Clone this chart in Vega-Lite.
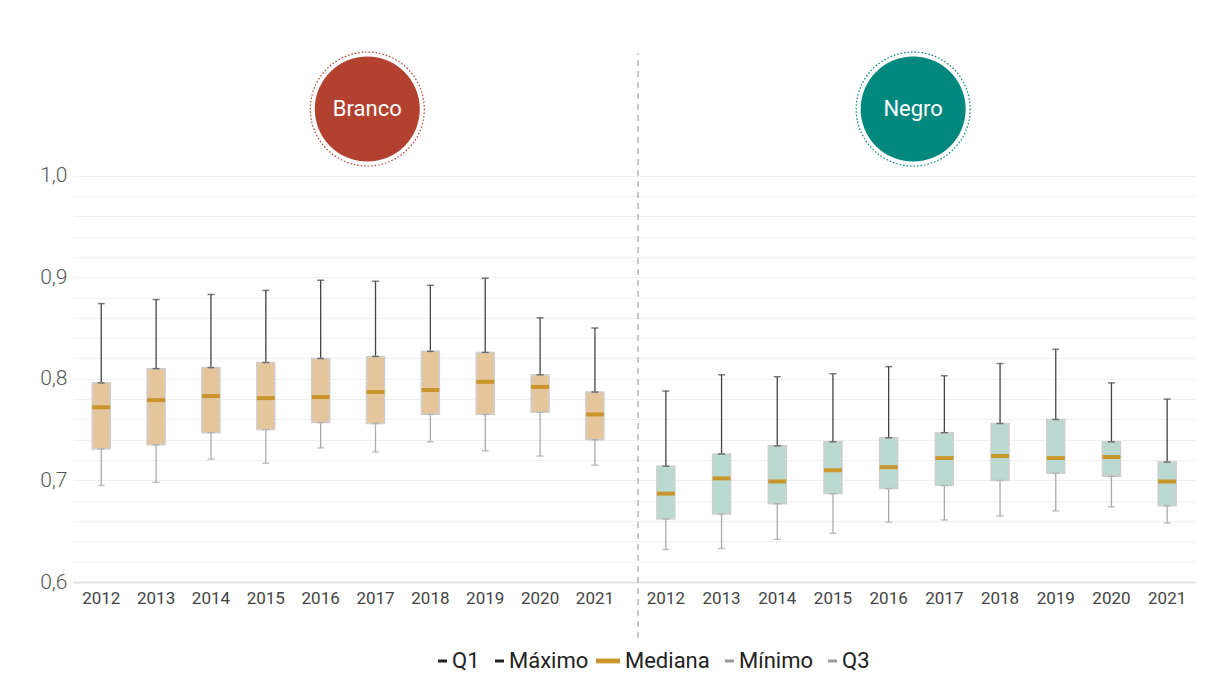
{
  "$schema": "https://vega.github.io/schema/vega-lite/v6.json",
  "background": "white",
  "padding": {"left": 39, "top": 49, "right": 13, "bottom": 20},
  "bounds": "flush",
  "spacing": 0,
  "config": {
    "font": "Roboto",
    "view": {"stroke": null},
    "axisX": {"labelFont": "Roboto", "labelFontSize": 17, "labelColor": "#444444", "ticks": false, "domain": true, "domainColor": "#e3e3e3", "domainWidth": 2, "labelPadding": 8, "labelAngle": 0, "grid": false, "title": null},
    "axisY": {"ticks": false, "domain": false, "grid": true, "gridColor": "#efefef", "gridWidth": 1, "title": null, "labelOverlap": false, "tickCount": 30}
  },
  "data": {
    "values": [
      {"group": "Branco", "year": 2012, "min": 0.695, "q1": 0.731, "median": 0.772, "q3": 0.796, "max": 0.874},
      {"group": "Branco", "year": 2013, "min": 0.698, "q1": 0.735, "median": 0.779, "q3": 0.810, "max": 0.878},
      {"group": "Branco", "year": 2014, "min": 0.721, "q1": 0.747, "median": 0.783, "q3": 0.811, "max": 0.883},
      {"group": "Branco", "year": 2015, "min": 0.717, "q1": 0.750, "median": 0.781, "q3": 0.816, "max": 0.887},
      {"group": "Branco", "year": 2016, "min": 0.732, "q1": 0.757, "median": 0.782, "q3": 0.820, "max": 0.897},
      {"group": "Branco", "year": 2017, "min": 0.728, "q1": 0.756, "median": 0.787, "q3": 0.822, "max": 0.896},
      {"group": "Branco", "year": 2018, "min": 0.738, "q1": 0.765, "median": 0.789, "q3": 0.827, "max": 0.892},
      {"group": "Branco", "year": 2019, "min": 0.729, "q1": 0.765, "median": 0.797, "q3": 0.826, "max": 0.899},
      {"group": "Branco", "year": 2020, "min": 0.724, "q1": 0.767, "median": 0.792, "q3": 0.804, "max": 0.860},
      {"group": "Branco", "year": 2021, "min": 0.715, "q1": 0.740, "median": 0.765, "q3": 0.787, "max": 0.850},
      {"group": "Negro", "year": 2012, "min": 0.632, "q1": 0.662, "median": 0.687, "q3": 0.714, "max": 0.788},
      {"group": "Negro", "year": 2013, "min": 0.633, "q1": 0.667, "median": 0.702, "q3": 0.726, "max": 0.804},
      {"group": "Negro", "year": 2014, "min": 0.642, "q1": 0.677, "median": 0.699, "q3": 0.734, "max": 0.802},
      {"group": "Negro", "year": 2015, "min": 0.648, "q1": 0.687, "median": 0.710, "q3": 0.738, "max": 0.805},
      {"group": "Negro", "year": 2016, "min": 0.659, "q1": 0.692, "median": 0.713, "q3": 0.742, "max": 0.812},
      {"group": "Negro", "year": 2017, "min": 0.661, "q1": 0.695, "median": 0.722, "q3": 0.747, "max": 0.803},
      {"group": "Negro", "year": 2018, "min": 0.665, "q1": 0.700, "median": 0.724, "q3": 0.756, "max": 0.815},
      {"group": "Negro", "year": 2019, "min": 0.670, "q1": 0.707, "median": 0.722, "q3": 0.760, "max": 0.829},
      {"group": "Negro", "year": 2020, "min": 0.674, "q1": 0.704, "median": 0.723, "q3": 0.738, "max": 0.796},
      {"group": "Negro", "year": 2021, "min": 0.658, "q1": 0.675, "median": 0.699, "q3": 0.718, "max": 0.780}
    ]
  },
  "resolve": {"scale": {"x": "independent", "y": "shared", "color": "shared", "shape": "shared"}},
  "hconcat": [
    {
      "width": 565,
      "height": 508,
      "transform": [{"filter": "datum.group == 'Branco'"}],
      "encoding": {
        "x": {"field": "year", "type": "ordinal", "scale": {"paddingInner": 0, "paddingOuter": 0.15, "align": 0.05}}
      },
      "layer": [
        {"mark": {"type": "rule", "color": "#444444", "strokeWidth": 1.3},
         "encoding": {"y": {"field": "q3", "type": "quantitative", "scale": {"domain": [0.6, 1.1], "nice": false, "zero": false},
           "axis": {"values": [0.6,0.62,0.64,0.66,0.68,0.7,0.72,0.74,0.76,0.78,0.8,0.82,0.84,0.86,0.88,0.9,0.92,0.94,0.96,0.98,1.0],
             "tickCount": 30,
             "labelExpr": "format(datum.value, '.2f')[3] == '0' ? replace(format(datum.value, '.1f'), '.', ',') : ''",
             "labelFont": "Roboto", "labelFontSize": 21, "labelColor": "#555555", "labelPadding": 6, "labelFontWeight": 300}},
           "y2": {"field": "max"}}},
        {"mark": {"type": "rule", "color": "#aaaaaa", "strokeWidth": 1.3},
         "encoding": {"y": {"field": "min", "type": "quantitative"}, "y2": {"field": "q1"}}},
        {"mark": {"type": "bar", "width": 18, "fill": "#e5c59b", "stroke": "#cfcfcf", "strokeWidth": 1.5},
         "encoding": {"y": {"field": "q1", "type": "quantitative"}, "y2": {"field": "q3"}}},
        {"mark": {"type": "tick", "size": 7, "thickness": 1.5, "color": "#444444"},
         "encoding": {"y": {"field": "max", "type": "quantitative"}}},
        {"mark": {"type": "tick", "size": 7, "thickness": 1.5, "color": "#444444"},
         "encoding": {"y": {"field": "q3", "type": "quantitative"}}},
        {"mark": {"type": "tick", "size": 7, "thickness": 1.5, "color": "#aaaaaa"},
         "encoding": {"y": {"field": "q1", "type": "quantitative"}}},
        {"mark": {"type": "tick", "size": 7, "thickness": 1.5, "color": "#aaaaaa"},
         "encoding": {"y": {"field": "min", "type": "quantitative"}}},
        {"mark": {"type": "tick", "size": 18, "thickness": 4, "color": "#c9962b", "opacity": 1},
         "encoding": {"y": {"field": "median", "type": "quantitative"}}},
        {"data": {"values": [{"label": "Branco"}]},
         "layer": [
           {"mark": {"type": "point", "shape": "circle", "filled": false, "size": 12996, "stroke": "#b3412f", "strokeWidth": 1.2, "strokeDash": [1.5, 2], "opacity": 1},
            "encoding": {"x": {"datum": 2017, "bandPosition": 0.35}, "y": {"datum": 1.0655}}},
           {"mark": {"type": "point", "shape": "circle", "filled": true, "size": 11025, "color": "#b3412f", "opacity": 1},
            "encoding": {"x": {"datum": 2017, "bandPosition": 0.35}, "y": {"datum": 1.0655}}},
           {"mark": {"type": "text", "color": "white", "fontSize": 22, "fontWeight": "normal", "font": "Roboto", "baseline": "middle", "align": "center"},
            "encoding": {"x": {"datum": 2017, "bandPosition": 0.35}, "y": {"datum": 1.0655}, "text": {"field": "label"}}}
         ]},
        {"data": {"values": [{"item": "Q1"}, {"item": "Máximo"}, {"item": "Mediana"}, {"item": "Mínimo"}, {"item": "Q3"}]},
         "mark": {"type": "point", "filled": true, "opacity": 0},
         "encoding": {
           "x": {"datum": 2012},
           "y": {"datum": 0.8},
           "color": {"field": "item", "type": "nominal",
             "scale": {"domain": ["Q1", "Máximo", "Mediana", "Mínimo", "Q3"], "range": ["#222222", "#222222", "#c9962b", "#999999", "#999999"]},
             "legend": {"title": null, "orient": "none", "legendX": 357, "legendY": 576, "direction": "horizontal",
               "labelFont": "Roboto", "labelFontSize": 22, "labelColor": "#222222", "symbolSize": 144, "labelOffset": 0, "columnPadding": 7,
               "labelExpr": "datum.label == 'Máximo' ? 'Máximo\u00a0\u00a0' : datum.label",
               "encode": {"symbols": {"update": {"opacity": {"value": 1}, "fillOpacity": {"value": 1}, "strokeWidth": {"value": 0}}}}}},
           "shape": {"field": "item", "type": "nominal",
             "scale": {"domain": ["Q1", "Máximo", "Mediana", "Mínimo", "Q3"],
               "range": ["M-0.5,-0.25H1V0.25H-0.5Z", "M-0.5,-0.25H1V0.25H-0.5Z", "M-3,-0.4H1V0.4H-3Z", "M-0.5,-0.25H1V0.25H-0.5Z", "M-0.5,-0.25H1V0.25H-0.5Z"]},
             "legend": {"title": null, "orient": "none", "legendX": 357, "legendY": 576, "direction": "horizontal",
               "labelFont": "Roboto", "labelFontSize": 22, "labelColor": "#222222", "symbolSize": 144, "labelOffset": 0, "columnPadding": 7,
               "labelExpr": "datum.label == 'Máximo' ? 'Máximo\u00a0\u00a0' : datum.label",
               "encode": {"symbols": {"update": {"opacity": {"value": 1}, "fillOpacity": {"value": 1}, "strokeWidth": {"value": 0}}}}}}
         }}
      ]
    },
    {
      "width": 557,
      "height": 508,
      "transform": [{"filter": "datum.group == 'Negro'"}],
      "encoding": {
        "x": {"field": "year", "type": "ordinal", "scale": {"paddingInner": 0, "paddingOuter": 0}}
      },
      "layer": [
        {"mark": {"type": "rule", "color": "#444444", "strokeWidth": 1.3},
         "encoding": {"y": {"field": "q3", "type": "quantitative",
           "axis": {"values": [0.6,0.62,0.64,0.66,0.68,0.7,0.72,0.74,0.76,0.78,0.8,0.82,0.84,0.86,0.88,0.9,0.92,0.94,0.96,0.98,1.0], "labels": false, "tickCount": 30}},
           "y2": {"field": "max"}}},
        {"mark": {"type": "rule", "color": "#aaaaaa", "strokeWidth": 1.3},
         "encoding": {"y": {"field": "min", "type": "quantitative"}, "y2": {"field": "q1"}}},
        {"mark": {"type": "bar", "width": 18, "fill": "#bad9d1", "stroke": "#cfcfcf", "strokeWidth": 1.5},
         "encoding": {"y": {"field": "q1", "type": "quantitative"}, "y2": {"field": "q3"}}},
        {"mark": {"type": "tick", "size": 7, "thickness": 1.5, "color": "#444444"},
         "encoding": {"y": {"field": "max", "type": "quantitative"}}},
        {"mark": {"type": "tick", "size": 7, "thickness": 1.5, "color": "#444444"},
         "encoding": {"y": {"field": "q3", "type": "quantitative"}}},
        {"mark": {"type": "tick", "size": 7, "thickness": 1.5, "color": "#aaaaaa"},
         "encoding": {"y": {"field": "q1", "type": "quantitative"}}},
        {"mark": {"type": "tick", "size": 7, "thickness": 1.5, "color": "#aaaaaa"},
         "encoding": {"y": {"field": "min", "type": "quantitative"}}},
        {"mark": {"type": "tick", "size": 18, "thickness": 4, "color": "#c9962b", "opacity": 1},
         "encoding": {"y": {"field": "median", "type": "quantitative"}}},
        {"data": {"values": [{"label": "Negro"}]},
         "layer": [
           {"mark": {"type": "rule", "color": "#b5b5b5", "strokeWidth": 1.5, "strokeDash": [6, 5]},
            "encoding": {"x": {"datum": 2012, "bandPosition": 0}, "y": {"datum": 0.545}, "y2": {"datum": 1.12}}},
           {"mark": {"type": "point", "shape": "circle", "filled": false, "size": 12996, "stroke": "#00877e", "strokeWidth": 1.2, "strokeDash": [1.5, 2], "opacity": 1},
            "encoding": {"x": {"datum": 2016, "bandPosition": 0.94}, "y": {"datum": 1.0655}}},
           {"mark": {"type": "point", "shape": "circle", "filled": true, "size": 11025, "color": "#00877e", "opacity": 1},
            "encoding": {"x": {"datum": 2016, "bandPosition": 0.94}, "y": {"datum": 1.0655}}},
           {"mark": {"type": "text", "color": "white", "fontSize": 22, "fontWeight": "normal", "font": "Roboto", "baseline": "middle", "align": "center"},
            "encoding": {"x": {"datum": 2016, "bandPosition": 0.94}, "y": {"datum": 1.0655}, "text": {"field": "label"}}}
         ]}
      ]
    }
  ]
}
